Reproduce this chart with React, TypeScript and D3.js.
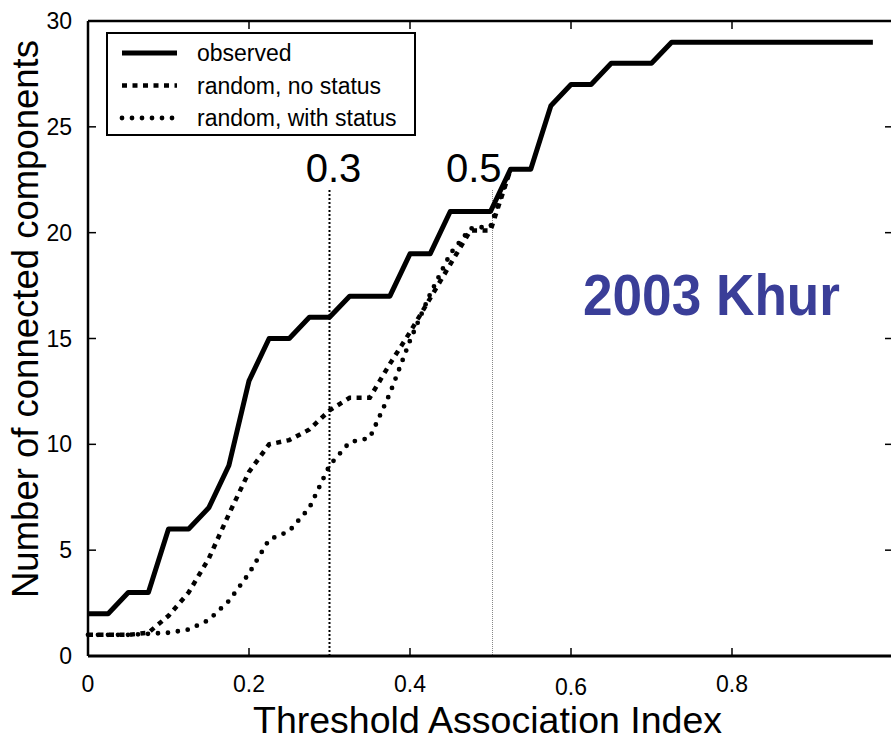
import React, { useEffect, useRef } from 'react';
import * as d3 from 'd3';

const thresholds = [
  0, 0.025, 0.05, 0.075, 0.1, 0.125, 0.15, 0.175, 0.2, 0.225,
  0.25, 0.275, 0.3, 0.325, 0.35, 0.375, 0.4, 0.425, 0.45, 0.475,
  0.5, 0.525, 0.55, 0.575, 0.6, 0.625, 0.65, 0.675, 0.7, 0.725,
  0.75, 0.775, 0.8, 0.825, 0.85, 0.875, 0.9, 0.925, 0.95, 0.975,
];

const observed = [
  2, 2, 3, 3, 6, 6, 7, 9, 13, 15,
  15, 16, 16, 17, 17, 17, 19, 19, 21, 21,
  21, 23, 23, 26, 27, 27, 28, 28, 28, 29,
  29, 29, 29, 29, 29, 29, 29, 29, 29, 29,
];

const randomNoStatus = [
  1, 1, 1, 1.1, 1.9, 3.0, 4.6, 6.7, 8.7, 10.0,
  10.2, 10.7, 11.6, 12.2, 12.2, 13.8, 15.3, 16.9, 18.5, 20.1,
  20.1, 23,
];

const randomWithStatus = [
  1, 1, 1, 1.05, 1.1, 1.25, 1.7, 2.6, 3.9, 5.5,
  5.9, 7.0, 9.0, 10.1, 10.3, 12.4, 14.9, 17.1, 19.0, 20.2,
  20.3, 23,
];

const xTicks = [0, 0.2, 0.4, 0.6, 0.8];
const xTickLabels = ['0', '0.2', '0.4', '0.6', '0.8'];
const yTicks = [0, 5, 10, 15, 20, 25, 30];
const markers = [0.3, 0.5];
const markerLabels = ['0.3', '0.5'];

const legendItems = ['observed', 'random, no status', 'random, with status'];

const FONT = '"Liberation Sans", Arial, Helvetica, sans-serif';
const W = 891;
const H = 738;

export default function App() {
  const svgRef = useRef<SVGSVGElement>(null);

  useEffect(() => {
    if (!svgRef.current) return;
    const svg = d3.select(svgRef.current);
    svg.selectAll('*').remove();

    const margin = { top: 21, right: -2, bottom: 82, left: 88 };
    const x = d3.scaleLinear().domain([0, 1]).range([margin.left, W - margin.right]);
    const y = d3.scaleLinear().domain([0, 30]).range([H - margin.bottom, margin.top]);

    svg.append('rect').attr('width', W).attr('height', H).attr('fill', '#fff');

    // marker lines
    const markerStyles = [
      { color: '#000', width: 2, dash: '2,2' },
      { color: '#888', width: 1, dash: '1,1' },
    ];
    markers.forEach((m, i) => {
      svg.append('line')
        .attr('x1', x(m) + (i === 1 ? 2 : 0)).attr('x2', x(m) + (i === 1 ? 2 : 0))
        .attr('y1', 190).attr('y2', y(0))
        .attr('stroke', markerStyles[i].color)
        .attr('stroke-width', markerStyles[i].width)
        .attr('stroke-dasharray', markerStyles[i].dash);
    });

    const line = d3.line<number>()
      .x((_, i) => x(thresholds[i]))
      .y((d) => y(d));

    svg.append('path')
      .datum(randomWithStatus)
      .attr('fill', 'none')
      .attr('stroke', '#000')
      .attr('stroke-width', 4.8)
      .attr('stroke-linecap', 'round')
      .attr('stroke-dasharray', '0,10')
      .attr('d', line);

    svg.append('path')
      .datum(randomNoStatus)
      .attr('fill', 'none')
      .attr('stroke', '#000')
      .attr('stroke-width', 4.5)
      .attr('stroke-dasharray', '5,5.5')
      .attr('d', line);

    svg.append('path')
      .datum(observed)
      .attr('fill', 'none')
      .attr('stroke', '#000')
      .attr('stroke-width', 5)
      .attr('stroke-linejoin', 'round')
      .attr('d', line);

    // frame
    const x0 = x(0), x1 = x(1), yb = y(0), yt = y(30);
    svg.append('line').attr('x1', x0).attr('x2', x1).attr('y1', yb).attr('y2', yb)
      .attr('stroke', '#000').attr('stroke-width', 3);
    svg.append('line').attr('x1', x0).attr('x2', x1).attr('y1', yt).attr('y2', yt)
      .attr('stroke', '#000').attr('stroke-width', 2.5);
    svg.append('line').attr('x1', x0).attr('x2', x0).attr('y1', yt).attr('y2', yb)
      .attr('stroke', '#000').attr('stroke-width', 2.5);
    svg.append('line').attr('x1', x1).attr('x2', x1).attr('y1', yt).attr('y2', yb)
      .attr('stroke', '#000').attr('stroke-width', 2.5);

    const tickLen = 8;
    xTicks.forEach((t, i) => {
      if (t !== 0) {
        svg.append('line').attr('x1', x(t)).attr('x2', x(t)).attr('y1', yb).attr('y2', yb - tickLen)
          .attr('stroke', '#000').attr('stroke-width', 1.5);
        svg.append('line').attr('x1', x(t)).attr('x2', x(t)).attr('y1', yt).attr('y2', yt + tickLen)
          .attr('stroke', '#000').attr('stroke-width', 1.5);
      }
      svg.append('text')
        .attr('x', x(t)).attr('y', t === 0.6 ? 695 : 692)
        .attr('text-anchor', 'middle')
        .attr('font-family', FONT).attr('font-size', 23)
        .text(xTickLabels[i]);
    });

    yTicks.forEach((t) => {
      if (t !== 0 && t !== 30) {
        svg.append('line').attr('x1', x0).attr('x2', x0 + tickLen).attr('y1', y(t)).attr('y2', y(t))
          .attr('stroke', '#000').attr('stroke-width', 1.5);
        svg.append('line').attr('x1', x1).attr('x2', x1 - tickLen).attr('y1', y(t)).attr('y2', y(t))
          .attr('stroke', '#000').attr('stroke-width', 1.5);
      }
      svg.append('text')
        .attr('x', 72).attr('y', y(t))
        .attr('dy', '0.35em')
        .attr('text-anchor', 'end')
        .attr('font-family', FONT).attr('font-size', 23)
        .text(String(t));
    });

    // marker labels
    svg.append('text')
      .attr('x', x(markers[0]) + 4).attr('y', 182)
      .attr('text-anchor', 'middle')
      .attr('font-family', FONT).attr('font-size', 40)
      .text(markerLabels[0]);
    svg.append('text')
      .attr('x', x(markers[1]) + 11).attr('y', 182)
      .attr('text-anchor', 'end')
      .attr('font-family', FONT).attr('font-size', 40)
      .text(markerLabels[1]);

    // axis titles
    svg.append('text')
      .attr('x', x(0.5) - 3).attr('y', 733)
      .attr('text-anchor', 'middle')
      .attr('font-family', FONT).attr('font-size', 37.5)
      .text('Threshold Association Index');

    svg.append('text')
      .attr('transform', `translate(38,319) rotate(-90)`)
      .attr('text-anchor', 'middle')
      .attr('font-family', FONT).attr('font-size', 36.5)
      .text('Number of connected components');

    // title
    svg.append('text')
      .attr('x', 583).attr('y', 315)
      .attr('font-family', FONT).attr('font-size', 58)
      .attr('font-weight', 'bold')
      .attr('fill', '#3a3e98')
      .attr('textLength', 257)
      .attr('lengthAdjust', 'spacingAndGlyphs')
      .text('2003 Khur');

    // legend
    const lg = svg.append('g');
    lg.append('rect')
      .attr('x', 107).attr('y', 33).attr('width', 308).attr('height', 102)
      .attr('fill', '#fff').attr('stroke', '#000').attr('stroke-width', 2);
    const legendStyles = [
      { width: 5, dash: null as string | null, cap: 'butt' },
      { width: 4.5, dash: '5,5.5', cap: 'butt' },
      { width: 4.8, dash: '0,10', cap: 'round' },
    ];
    legendItems.forEach((label, i) => {
      const ly = 53 + i * 32.5;
      const s = legendStyles[i];
      const l = lg.append('line')
        .attr('x1', 122).attr('x2', 177).attr('y1', ly).attr('y2', ly)
        .attr('stroke', '#000').attr('stroke-width', s.width)
        .attr('stroke-linecap', s.cap);
      if (s.dash) l.attr('stroke-dasharray', s.dash);
      lg.append('text')
        .attr('x', 197).attr('y', ly)
        .attr('dy', '0.35em')
        .attr('font-family', FONT).attr('font-size', 23)
        .text(label);
    });
  }, []);

  return (
    <div style={{ position: 'absolute', left: 0, top: 0 }}>
      <svg ref={svgRef} width={W} height={H} style={{ display: 'block' }} />
    </div>
  );
}
